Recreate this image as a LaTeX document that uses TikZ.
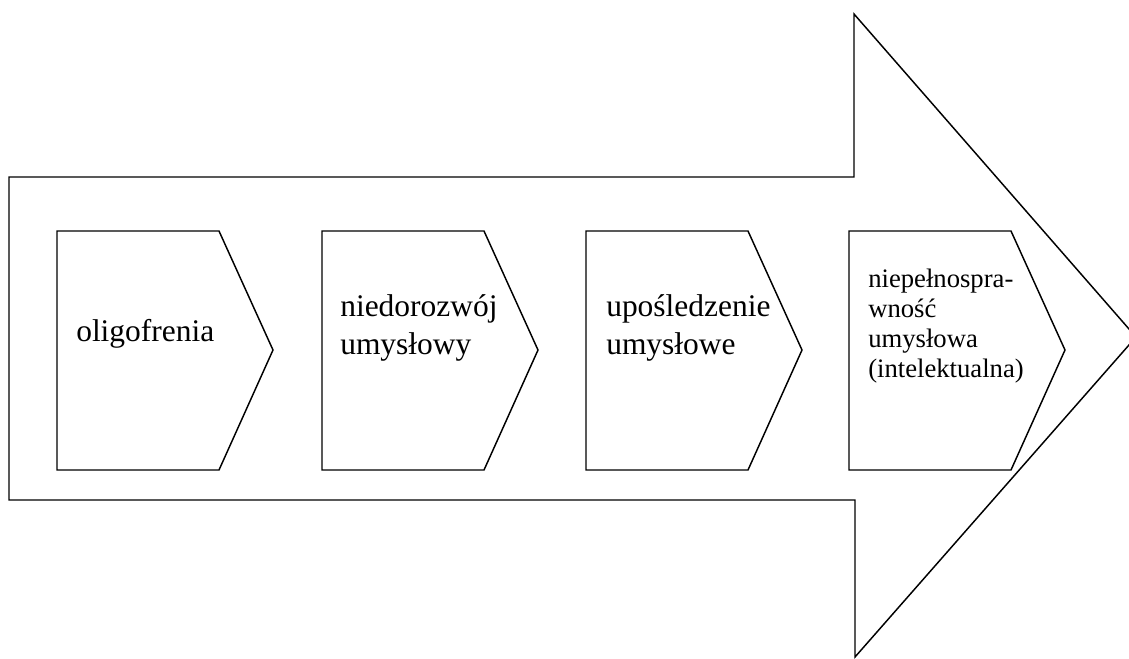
\documentclass[tikz,border=0pt]{standalone}
\usepackage{fontspec}
\setmainfont{Liberation Serif}
\usetikzlibrary{positioning}
\tikzstyle{bigarrow} = [draw,line width=1.1pt,line join=miter]
\tikzstyle{chevron} = [draw,line width=1.1pt,fill=white]
\tikzstyle{stagetext} = [anchor=base west,align=left,inner sep=0pt,font=\fontsize{23.6}{28.5}\selectfont]
\tikzstyle{smalltext} = [stagetext,font=\fontsize{20}{22.5}\selectfont]

\begin{document}
\begin{tikzpicture}[x=0.75pt,y=-0.75pt]
  \useasboundingbox (0,0) rectangle (1129,658);

  % big arrow in the background, tip runs past the page edge
  \path[bigarrow] (9,177) -- (854,177) -- (854,14) -- (1136,337) -- (855,657) -- (855,500) -- (9,500) -- cycle;

  \foreach \x in {57,322,586,849}
    \path[chevron] (\x,231) -- ++(162,0) -- ++(54,119) -- ++(-54,120) -- ++(-162,0) -- cycle;

  % base anchor sits on the last line
  \foreach \pos/\name/\txt in {{(76,341)/olig/oligofrenia}, {(340,354)/niedo/niedorozwój\\umysłowy}, {(606,354)/upos/upośledzenie\\umysłowe}}
    \node[stagetext] (\name) at \pos {\txt};

  \node[smalltext] (niep) at (868,377) {niepełnospra-\\wność\\umysłowa\\(intelektualna)};

\end{tikzpicture}
\end{document}
